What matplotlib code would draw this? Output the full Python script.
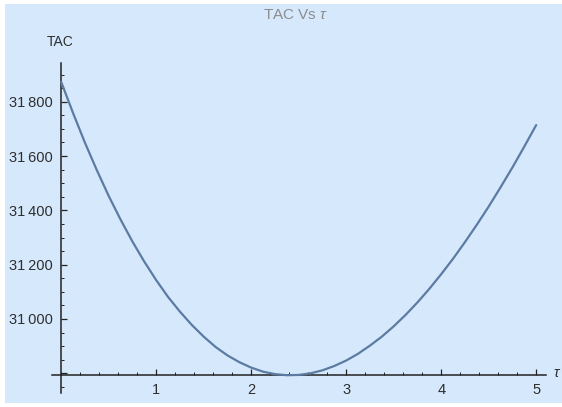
import numpy as np
import matplotlib
matplotlib.use("Agg")
import matplotlib.pyplot as plt
from matplotlib.patches import Rectangle
from matplotlib.ticker import FixedLocator, MultipleLocator

plt.rcParams['font.family'] = ['Liberation Sans', 'DejaVu Sans']
plt.rcParams['mathtext.fontset'] = 'custom'
plt.rcParams['mathtext.it'] = 'Liberation Sans:italic'
plt.rcParams['mathtext.rm'] = 'Liberation Sans'

# total annual cost against cycle time tau
tau = [0.0, 0.125, 0.25, 0.375, 0.5, 0.625, 0.75, 0.875, 1.0, 1.125, 1.25,
       1.375, 1.5, 1.625, 1.75, 1.875, 2.0, 2.125, 2.25, 2.375, 2.5,
       2.625, 2.75, 2.875, 3.0, 3.125, 3.25, 3.375, 3.5, 3.625, 3.75,
       3.875, 4.0, 4.125, 4.25, 4.375, 4.5, 4.625, 4.75, 4.875, 5.0]
tac = [31873, 31758, 31649, 31548, 31453, 31366, 31285, 31211, 31143, 31081, 31027,
       30978, 30935, 30897, 30866, 30841, 30821, 30806, 30797, 30793, 30794,
       30800, 30811, 30827, 30847, 30872, 30902, 30935, 30973, 31015, 31061,
       31111, 31165, 31222, 31283, 31347, 31414, 31485, 31558, 31635, 31714]

x_ticks = [1, 2, 3, 4, 5]
x_ticklabels = ["1", "2", "3", "4", "5"]
y_ticks = [30800, 31000, 31200, 31400, 31600, 31800]
y_ticklabels = ["", "31\u2009000", "31\u2009200", "31\u2009400", "31\u2009600", "31\u2009800"]

W, H = 562, 407
fig = plt.figure(figsize=(W / 100, H / 100), dpi=100, facecolor="white")

bg = "#d6e9fc"
fig.patches.append(Rectangle((5 / W, 4 / H), 1 - 5 / W, 1 - 8 / H,
                             transform=fig.transFigure, facecolor=bg,
                             edgecolor="none", zorder=-10))

ax = fig.add_axes([51.7 / W, 1 - 393 / H, 494 / W, 330.3 / H])
ax.set_zorder(5)
ax.set_facecolor("none")
ax.set_xlim(-0.1, 5.1)
ax.set_ylim(30727.5, 31943.6)

ax.plot(tau, tac, color="#5c7ba3", lw=1.6, solid_capstyle="round",
        solid_joinstyle="round", zorder=3)

axis_col = "#222222"
ax.spines['left'].set_position(('data', 0))
ax.spines['bottom'].set_position(('data', 30794))
ax.spines['top'].set_visible(False)
ax.spines['right'].set_visible(False)
for s in ('left', 'bottom'):
    ax.spines[s].set_color(axis_col)
    ax.spines[s].set_linewidth(1.1)

ax.xaxis.set_major_locator(FixedLocator(x_ticks))
ax.set_xticklabels(x_ticklabels)
ax.xaxis.set_minor_locator(MultipleLocator(0.2))
ax.yaxis.set_major_locator(FixedLocator(y_ticks))
ax.set_yticklabels(y_ticklabels)
ax.yaxis.set_minor_locator(MultipleLocator(50))

ax.tick_params(which='major', direction='in', length=4.5, width=0.9,
               color=axis_col, labelsize=10.5, labelcolor="#2e2e2e", pad=6)
ax.tick_params(which='minor', direction='in', length=2.5, width=0.7, color=axis_col)

fig.text(60.5 / W, 1 - 41.7 / H, "TAC", ha="center", va="center",
         fontsize=10, color="#2e2e2e", zorder=6)
fig.text(553 / W, 1 - 373 / H, r"$\tau$", ha="left", va="center",
         fontsize=10.5, color="#2e2e2e", zorder=6)
fig.text(295.5 / W, 1 - 15 / H, r"TAC Vs $\tau$", ha="center", va="center",
         fontsize=11, color="#8c8c8c", zorder=6)

fig.savefig("out.png", dpi=100, facecolor="white")
